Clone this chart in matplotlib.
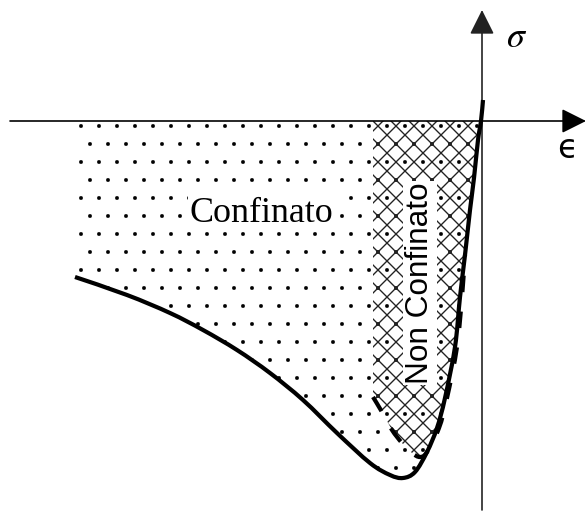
import numpy as np
import matplotlib
matplotlib.use("Agg")
import matplotlib.pyplot as plt
from matplotlib.patches import Polygon, FancyArrowPatch, PathPatch
from matplotlib.path import Path

plt.rcParams['mathtext.fontset'] = 'stix'
plt.rcParams['lines.scale_dashes'] = False

# ---- data (strain, stress) ----
conf_eps = [-407, -355, -312, -279, -245, -212, -179, -145, -112, -92, -79,
            -67, -55, -45, -37, -27, -22, -17, -12, -8, -4, -1, 1]
conf_sig = [-156, -174, -192, -209, -229, -252, -279, -312, -342, -354, -357,
            -351, -331, -307, -277, -226, -176, -134, -89, -57, -19, 0, 21]

unconf_eps = [-109, -100, -90, -80, -70, -62, -55, -43, -35, -25, -20, -17]
unconf_sig = [-276, -291, -309, -322, -332, -336, -331, -307, -277, -226, -176, -134]

dot_left = -404     # left edge of the confined (dotted) zone
hatch_left = -109   # left edge of the unconfined (cross-hatched) zone

labels = {"conf": "Confinato", "unconf": "Non Confinato"}

DPI = 108
fig = plt.figure(figsize=(586 / DPI, 513 / DPI), dpi=DPI)
ax = fig.add_axes([0, 0, 1, 1])
ax.set_xlim(-482, 104)
ax.set_ylim(-392, 121)
ax.axis('off')

ce = np.array(conf_eps, float); cs = np.array(conf_sig, float)
ue = np.array(unconf_eps, float); us = np.array(unconf_sig, float)


def smooth_path(xs, ys):
    """Cubic Bezier path through the given points (Catmull-Rom tangents)."""
    P = np.column_stack([xs, ys])
    n = len(P)
    verts = [P[0]]
    codes = [Path.MOVETO]
    for i in range(n - 1):
        p0 = P[i - 1] if i > 0 else P[i]
        p1 = P[i]
        p2 = P[i + 1]
        p3 = P[i + 2] if i + 2 < n else P[i + 1]
        c1 = p1 + (p2 - p0) / 6.0
        c2 = p2 - (p3 - p1) / 6.0
        verts += [c1, c2, p2]
        codes += [Path.CURVE4] * 3
    return Path(verts, codes)


# dotted (confined) region
mask = cs <= 0
dot_poly = [(dot_left, 0), (-1, 0)] + list(zip(ce[mask][::-1], cs[mask][::-1])) + [(dot_left, cs[0])]
plt.rcParams['hatch.linewidth'] = 0.2
dots = Polygon(dot_poly, closed=True, facecolor='none', edgecolor='black',
               linewidth=0, hatch='.', zorder=1)
if hasattr(dots, 'set_hatch_linewidth'):
    dots.set_hatch_linewidth(0.2)
ax.add_patch(dots)

# cross-hatched (unconfined) region
idx_join = 6  # where dashed curve meets solid
right_branch = [(e, s) for e, s in zip(ce, cs) if e >= ue[idx_join] and s <= 0]
hatch_poly = [(hatch_left, 0), (hatch_left, us[0])] + list(zip(ue[:idx_join + 1], us[:idx_join + 1])) \
    + right_branch[1:] + [(-1, 0)]
plt.rcParams['hatch.linewidth'] = 0.9
cross = Polygon(hatch_poly, closed=True, facecolor='none', edgecolor='#222222',
                linewidth=0, hatch='xx', zorder=2)
if hasattr(cross, 'set_hatch_linewidth'):
    cross.set_hatch_linewidth(0.9)
ax.add_patch(cross)

# curves
ax.add_patch(PathPatch(smooth_path(ce, cs), facecolor='none', edgecolor='black',
                       lw=2.8, capstyle='butt', zorder=5))
ax.add_patch(PathPatch(smooth_path(ue, us), facecolor='none', edgecolor='black',
                       lw=2.8, linestyle=(0, (11, 13)), capstyle='butt', zorder=5))

# axes with arrows
astyle = '-|>,head_length=14,head_width=7'
ax.add_patch(FancyArrowPatch((-472, 0), (104, 0), arrowstyle=astyle, mutation_scale=1,
                             lw=1.1, color='black', shrinkA=0, shrinkB=0, zorder=6))
ax.add_patch(FancyArrowPatch((0, -389), (0, 111), arrowstyle=astyle, mutation_scale=1,
                             lw=1.1, color='#222222', shrinkA=0, shrinkB=0, zorder=4))

ax.text(35, 84, r'$\sigma$', fontsize=24, ha='center', va='center', zorder=7)
ax.text(85, -27, '\u03f5', family='DejaVu Sans', fontsize=22, ha='center', va='center', zorder=7)

ax.text(-220.5, -101, labels["conf"], family='Liberation Serif', fontsize=24,
        ha='center', va='baseline', zorder=7,
        bbox=dict(facecolor='white', edgecolor='none', pad=1))
ax.text(-54, -162, labels["unconf"], family='Liberation Sans', fontsize=21,
        rotation=90, rotation_mode='anchor', ha='center', va='baseline', zorder=7,
        bbox=dict(facecolor='white', edgecolor='none', pad=1))

fig.savefig('out.png', dpi=DPI)
